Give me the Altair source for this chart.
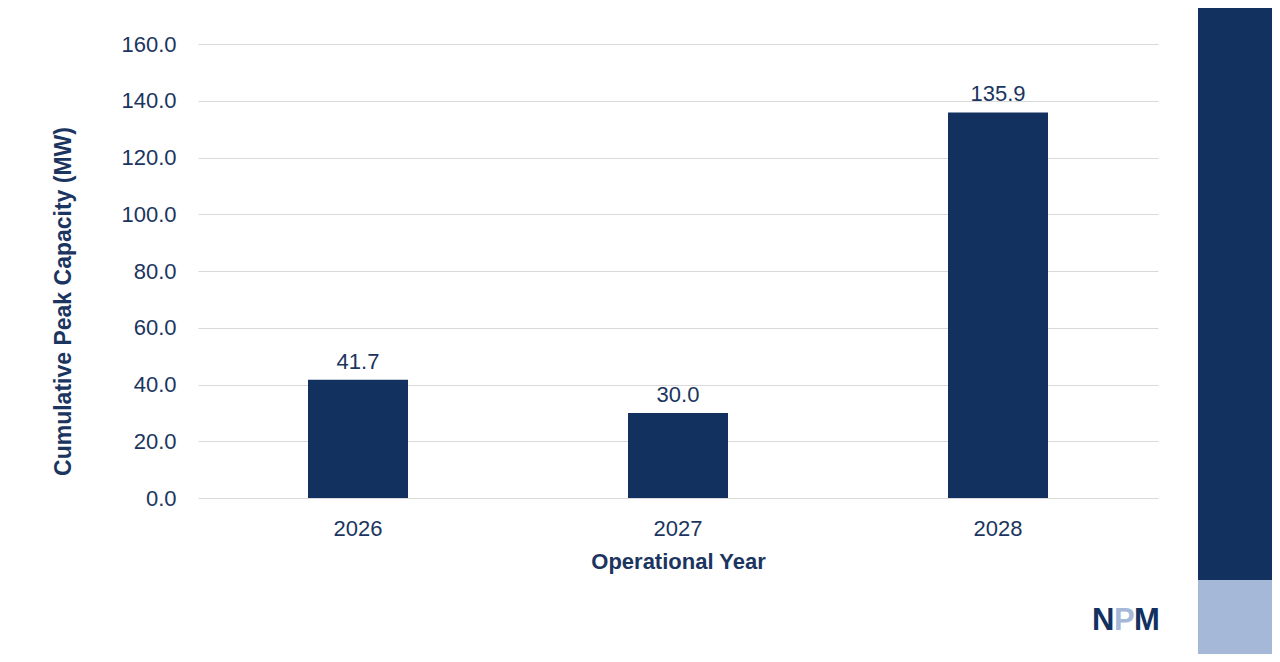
import altair as alt
import pandas as pd

years = ["2026", "2027", "2028"]
capacity = [41.7, 30.0, 135.9]

NAVY = "#12315E"
LIGHT = "#A6B8D8"
TEXT = "#1B3560"
FONT = "Liberation Sans"

df = pd.DataFrame({"year": years, "cap": capacity})

base = alt.Chart(df)

bars = base.mark_bar(color=NAVY).encode(
    x=alt.X("year:N", title="Operational Year",
            scale=alt.Scale(paddingInner=0.6875, paddingOuter=0.34375),
            axis=alt.Axis(labelAngle=0, labelFontSize=22, labelColor=TEXT, labelFont=FONT,
                          labelPadding=20, titleFontSize=22, titleColor=TEXT, titleFont=FONT,
                          titleFontWeight="bold", titlePadding=12, ticks=False, domain=False,
                          grid=False)),
    y=alt.Y("cap:Q", title="Cumulative Peak Capacity (MW)",
            scale=alt.Scale(domain=[0, 160]),
            axis=alt.Axis(values=[0, 20, 40, 60, 80, 100, 120, 140, 160], format=".1f",
                          labelFontSize=22, labelColor=TEXT, labelFont=FONT, labelPadding=22,
                          titleFontSize=23, titleColor=TEXT, titleFont=FONT, titleFontWeight="bold",
                          titlePadding=45, titleY=257, ticks=False, domain=False,
                          gridColor="#D9D9D9", gridWidth=1)),
)

labels = base.mark_text(dy=-18, fontSize=22, color=TEXT, font=FONT).encode(
    x="year:N", y="cap:Q", text=alt.Text("cap:Q", format=".1f"))

one = pd.DataFrame({"k": [0]})
dark_panel = alt.Chart(one).mark_rect(color=NAVY).encode(
    x=alt.value(1000), x2=alt.value(1090), y=alt.value(-40), y2=alt.value(536))
light_panel = alt.Chart(one).mark_rect(color=LIGHT).encode(
    x=alt.value(1000), x2=alt.value(1090), y=alt.value(536), y2=alt.value(640))

def logo_letter(ch, x, color):
    return alt.Chart(pd.DataFrame({"ch": [ch]})).mark_text(
        fontSize=31, fontWeight="bold", font=FONT, color=color,
        align="left", baseline="alphabetic").encode(
        x=alt.value(x), y=alt.value(586), text="ch:N")

logo_n = logo_letter("N", 894, NAVY)
logo_p = logo_letter("P", 916, LIGHT)
logo_m = logo_letter("M", 936, NAVY)

chart = alt.layer(bars, labels, dark_panel, light_panel, logo_n, logo_p, logo_m).properties(
    width=960, height=454,
    autosize=alt.AutoSizeParams(type="none"),
    padding={"left": 190, "top": 36, "right": 114, "bottom": 156},
    view=alt.ViewBackground(strokeWidth=0),
).configure_view(strokeWidth=0).configure(background="white")

chart.save("out.html", embed_options={"renderer": "svg", "actions": False})
